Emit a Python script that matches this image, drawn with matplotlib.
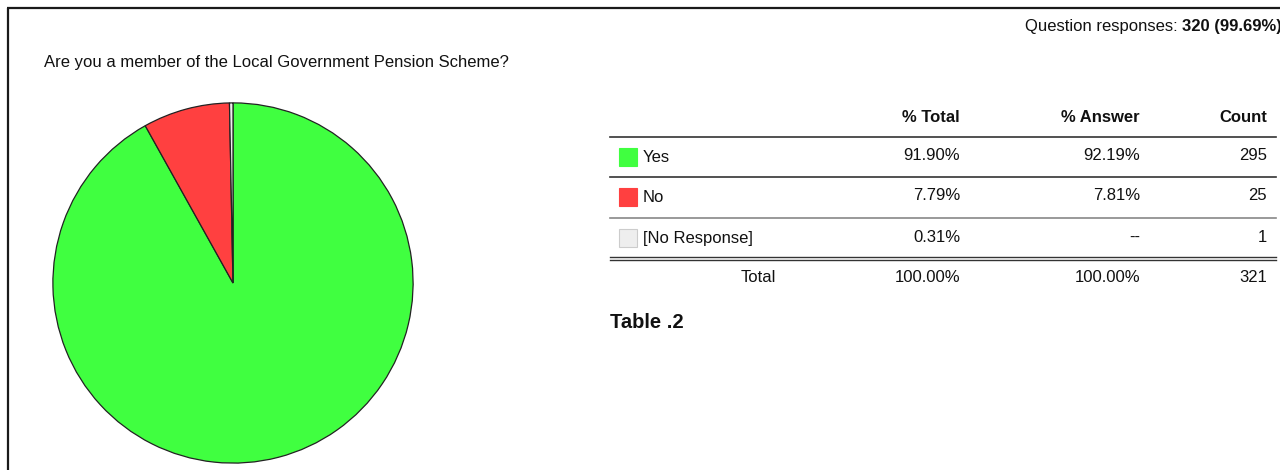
import matplotlib
matplotlib.use("Agg")
import matplotlib.pyplot as plt
from matplotlib.patches import Rectangle

plt.rcParams['font.family'] = ['Liberation Sans', 'DejaVu Sans']

# data
labels = ["Yes", "No", "[No Response]"]
counts = [295, 25, 1]
pct_total = ["91.90%", "7.79%", "0.31%"]
pct_answer = ["92.19%", "7.81%", "--"]
colors = ["#40ff40", "#ff4040", "#eeeeee"]
total_row = ["100.00%", "100.00%", "321"]
columns = ["% Total", "% Answer", "Count"]

W, H = 1280, 470
fig = plt.figure(figsize=(W / 100, H / 100), dpi=100)

# overlay axes in pixel coordinates (y down)
ov = fig.add_axes([0, 0, 1, 1])
ov.set_xlim(0, W)
ov.set_ylim(H, 0)
ov.axis("off")

# pie
pl, pt, pw, ph = 52, 101, 362, 364
pax = fig.add_axes([pl / W, (H - pt - ph) / H, pw / W, ph / H])
pax.pie(counts, colors=colors, startangle=90, counterclock=False,
        wedgeprops=dict(edgecolor="#222222", linewidth=0.9))
pax.set_xlim(-1.005, 1.005)
pax.set_ylim(-1.005, 1.005)
pax.set_aspect("equal")
pax.axis("off")

# frame
ov.plot([7, W], [8, 8], color="#1a1a1a", lw=1.6, solid_capstyle="butt")
ov.plot([8, 8], [8, H], color="#1a1a1a", lw=1.6, solid_capstyle="butt")

fs = 12
ov.text(44, 63, "Are you a member of the Local Government Pension Scheme?",
        fontsize=fs, va="center", ha="left", color="#111111")
ov.text(1178, 27, "Question responses:", fontsize=fs, va="center", ha="right", color="#111111")
ov.text(1182, 27, "320 (99.69%)", fontsize=fs, va="center", ha="left",
        fontweight="bold", color="#111111")

# table
col_x = [960, 1140, 1267]
for x, c in zip(col_x, columns):
    ov.text(x, 118, c, fontsize=fs, fontweight="bold", ha="right", va="center", color="#111111")

x0, x1 = 610, 1276
ov.plot([x0, x1], [137, 137], color="#333333", lw=1.2)
row_y = [157, 197, 238]
sep_y = [177, 218]
sep_c = ["#333333", "#888888"]
for i, lab in enumerate(labels):
    y = row_y[i]
    ec = "#cccccc" if i == 2 else colors[i]
    ov.add_patch(Rectangle((619, y - 9), 18, 18, facecolor=colors[i], edgecolor=ec, lw=0.8))
    ov.text(643, y + 1, lab, fontsize=fs, ha="left", va="center", color="#111111")
    vals = [pct_total[i], pct_answer[i], str(counts[i])]
    for x, v in zip(col_x, vals):
        ov.text(x, y - 1, v, fontsize=fs, ha="right", va="center", color="#111111")
for y, c in zip(sep_y, sep_c):
    ov.plot([x0, x1], [y, y], color=c, lw=1.2)
ov.plot([x0, x1], [256.5, 256.5], color="#333333", lw=1.0)
ov.plot([x0, x1], [260, 260], color="#333333", lw=1.0)

ov.text(776, 278, "Total", fontsize=fs, ha="right", va="center", color="#111111")
for x, v in zip(col_x, total_row):
    ov.text(x, 278, v, fontsize=fs, ha="right", va="center", color="#111111")

ov.text(610, 322, "Table .2", fontsize=14.5, fontweight="bold", ha="left", va="center", color="#111111")

fig.savefig("out.png", dpi=100)
